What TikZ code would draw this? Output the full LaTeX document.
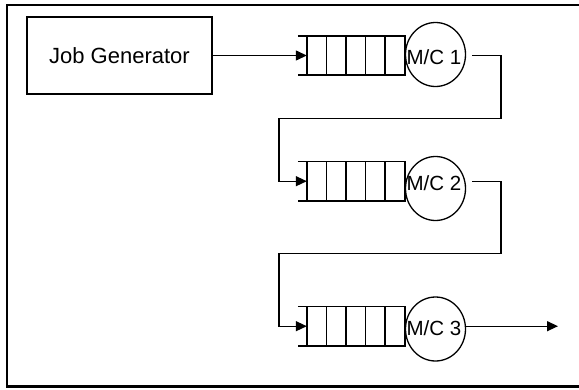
\documentclass[tikz,border=0pt]{standalone}
\usepackage{fontspec}
\setmainfont{Liberation Sans}
\usetikzlibrary{arrows.meta,calc,shapes.geometric}

\tikzset{
  frame/.style={draw, line width=2.4pt},
  genbox/.style={draw, line width=1.3pt, minimum width=185pt, minimum height=77pt,
    inner sep=0pt, font=\fontsize{22}{26}\selectfont},
  queue/.style={minimum width=98pt, minimum height=39pt, inner sep=0pt},
  qline/.style={line width=1.6pt},
  server/.style={draw, ellipse, line width=1.3pt, minimum width=60pt, minimum height=64pt, inner sep=0pt},
  mclabel/.style={inner sep=0pt, font=\fontsize{20.5}{24}\selectfont},
  conn/.style={line width=1.3pt},
  arr/.style={conn, -{Triangle[length=11pt,width=10pt]}}
}

\begin{document}
\begin{tikzpicture}[x=1pt,y=-1pt]
\useasboundingbox (0,0) rectangle (579,389);

% outer frame
\draw[frame] (7,5) rectangle (582,386.5);

% job generator
\node[genbox] (jg) at (119.5,55.5) {Job Generator};

% three queues, each followed by a server
\foreach \i/\qy/\cy in {1/55.4/54.5, 2/181.2/188.5, 3/326.2/329} {
  \node[queue] (q\i) at (356,\qy) {};
  \draw[qline] ([xshift=-9pt]q\i.north west) -- (q\i.north east) -- (q\i.south east)
    -- ([xshift=-9pt]q\i.south west);
  \foreach \k in {0,...,4}
    \draw[qline] ($(q\i.north west)+(\k*19.6,0)$) -- ($(q\i.south west)+(\k*19.6,0)$);
  \node[server] (m\i) at (435.5,\cy) {};
  \node[mclabel] (t\i) at (434,\qy+1.5) {M/C \i};
}

% bend points of the return lines
\coordinate (b1) at (501,118.5);
\coordinate (b2) at (279,118.5);
\coordinate (b3) at (501,253.3);
\coordinate (b4) at (279,253.3);
\coordinate (out) at (558,326.2);

% connectors
\draw[arr] (jg.east) -- (jg.east -| q1.west);
\draw[arr] ([xshift=67pt]q1.east) -- (q1.east -| b1) -- (b1) -- (b2) -- (b2 |- q2.west) -- (q2.west);
\draw[arr] ([xshift=67pt]q2.east) -- (q2.east -| b3) -- (b3) -- (b4) -- (b4 |- q3.west) -- (q3.west);
\draw[arr] (m3.east |- q3.east) -- (out);
\end{tikzpicture}
\end{document}
